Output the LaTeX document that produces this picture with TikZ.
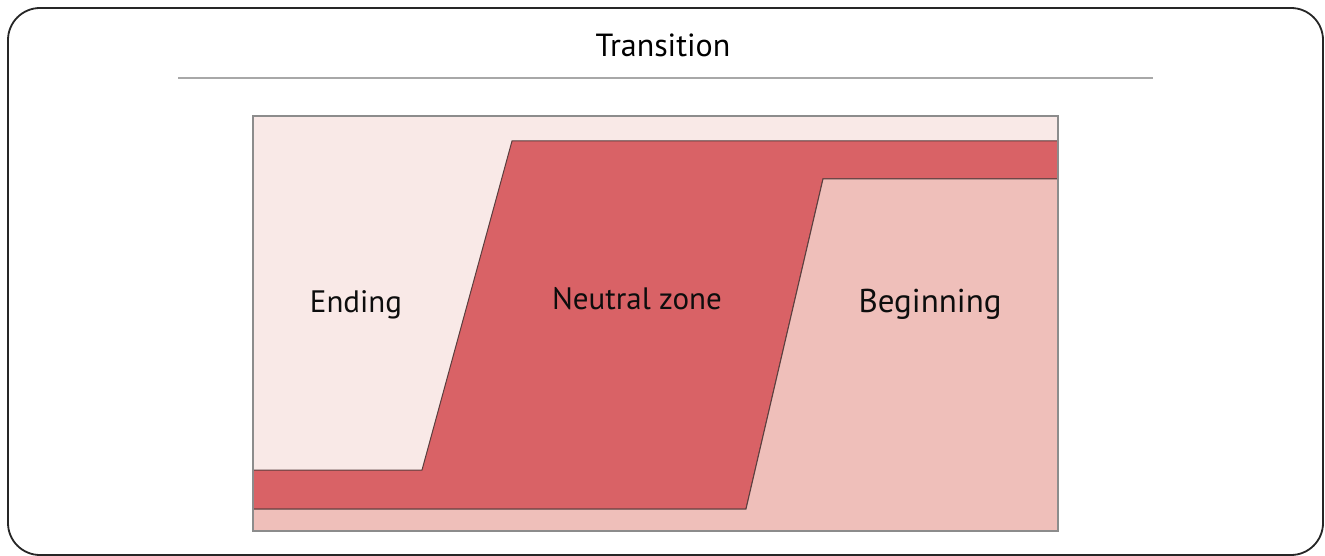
\documentclass[tikz,border=0pt]{standalone}
\usepackage{fontspec}
\setmainfont{PT Sans}
\definecolor{endfill}{HTML}{F9E9E7}
\definecolor{neutralfill}{HTML}{D96266}
\definecolor{beginfill}{HTML}{EFBFBA}
\definecolor{rulegray}{HTML}{A8A8A8}
\definecolor{boxgray}{HTML}{8C8C8C}
\definecolor{edge}{HTML}{5A3E3E}
\tikzset{
  zonelabel/.style={anchor=base, inner sep=0pt, font=\fontsize{31}{36}\selectfont, text=black!95},
  zoneedge/.style={draw=edge, line width=1pt, line join=miter},
}
\begin{document}
\begin{tikzpicture}[x=1pt,y=-1pt]
  \useasboundingbox (0,0) rectangle (1325,556);
  % outer frame
  \draw[line width=1.8pt, rounded corners=32pt, draw=black!85] (8,8) rectangle (1323,555);
  % heading and rule
  \node[anchor=base, inner sep=0pt, font=\fontsize{32}{36}\selectfont] (title) at (663,57) {Transition};
  \draw[rulegray, line width=2.4pt] (178,78) -- (1153,78);
  % background of the chart
  \fill[endfill] (253,116) rectangle (1058,531);
  % neutral zone band
  \path[fill=neutralfill, zoneedge] (253,470) -- (422,470) -- (512,141) -- (1058,141)
        -- (1058,179) -- (823,179) -- (746,509) -- (253,509);
  % beginning region
  \path[fill=beginfill, zoneedge] (253,509) -- (746,509) -- (823,179) -- (1058,179)
        -- (1058,531) -- (253,531) -- cycle;
  % chart border
  \draw[boxgray, line width=1.5pt] (253,116) rectangle (1058,531);
  % zone labels
  \node[zonelabel] (ending) at (356,312) {Ending};
  \node[zonelabel] (neutral) at (637,309) {Neutral zone};
  \node[zonelabel, font=\fontsize{33}{38}\selectfont] (beginning) at (930,312) {Beginning};
\end{tikzpicture}
\end{document}
